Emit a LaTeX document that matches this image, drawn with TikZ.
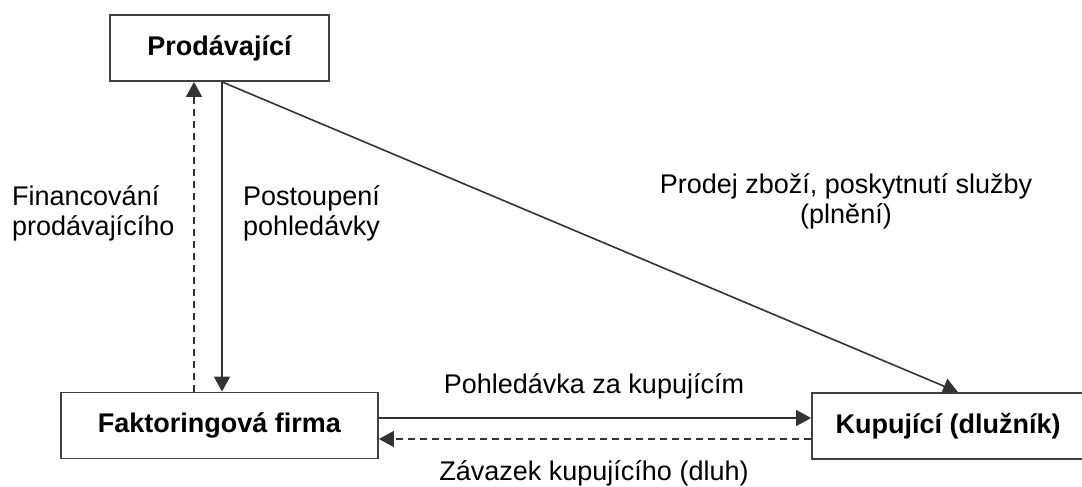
\documentclass[tikz,border=0pt]{standalone}
\usepackage{fontspec}
\setmainfont{Liberation Sans}
\usetikzlibrary{arrows.meta}
\tikzset{party/.style={draw=black!75,line width=1.8pt,fill=white,minimum height=66pt,inner sep=0pt,font=\fontsize{27}{31}\selectfont\bfseries},lbl/.style={inner sep=0pt,align=left,font=\fontsize{27}{30}\selectfont},flow/.style={-{Triangle[length=15pt,width=16pt]},line width=1.6pt,draw=black!80},back/.style={flow,line width=1.3pt,dash pattern=on 7pt off 5pt}}
\begin{document}
\begin{tikzpicture}[x=1pt,y=-1pt]
\useasboundingbox (0,0) rectangle (1082,487);
\node[party,minimum width=219pt] (seller) at (219.5,48) {Prodávající};\node[party,minimum width=317pt] (factor) at (219.5,425.5) {Faktoringová firma};\node[party,minimum width=272pt] (buyer) at (948,426) {Kupující (dlužník)};
\draw[flow] ([xshift=2.5pt]seller.south) -- ([xshift=2.5pt]factor.north);\draw[back] ([xshift=-25.5pt]factor.north) -- ([xshift=-25.5pt]seller.south);\draw[flow] ([xshift=2.5pt]seller.south) -- ([xshift=10pt]buyer.north);
\draw[flow] ([yshift=7.5pt]factor.east) -- ([yshift=8pt]buyer.west);\draw[back] ([yshift=-13pt]buyer.west) -- ([yshift=-13.5pt]factor.east);
\node[lbl,anchor=base west] (funding) at (12,235) {Financování\\prodávajícího};\node[lbl,anchor=base west] (assign) at (243,235) {Postoupení\\pohledávky};
\node[lbl,align=center,anchor=base] (supply) at (846,223) {Prodej zboží, poskytnutí služby\\(plnění)};
\node[lbl,anchor=base] (claim) at (594,393) {Pohledávka za kupujícím};\node[lbl,anchor=base] (debt) at (594,480) {Závazek kupujícího (dluh)};
\end{tikzpicture}
\end{document}
